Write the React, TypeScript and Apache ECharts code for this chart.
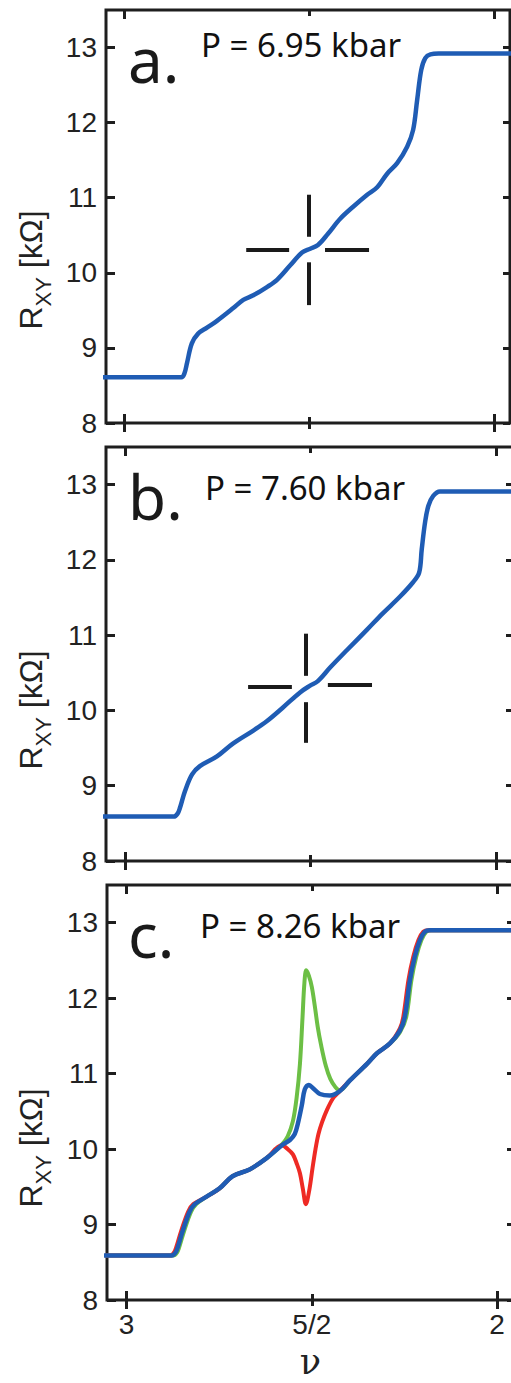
import React, { useEffect, useRef } from "react";
import * as echarts from "echarts";

// ---------- data ----------
const xTickMajor = [3, 2];
const xTickMinor = [2.5];
const xTickText: Record<string, string> = { "3": "3", "2.5": "5/2", "2": "2" };
const yTicks = [8, 9, 10, 11, 12, 13];
const xAxisName = "ν";
const yAxisRich = "{m|R}{s|XY}{m| [kΩ]}";

const panelLetters = ["a.", "b.", "c."];
const pressureTexts = ["P = 6.95 kbar", "P = 7.60 kbar", "P = 8.26 kbar"];

// panel a (blue)
const nuA = [3.06, 2.9, 2.845, 2.837, 2.83, 2.817, 2.8, 2.776, 2.749, 2.705, 2.678, 2.651, 2.614, 2.586, 2.551, 2.519, 2.497, 2.476, 2.449, 2.416, 2.381, 2.343, 2.316, 2.289, 2.262, 2.235, 2.219, 2.208, 2.197, 2.186, 2.172, 2.15, 2.05, 1.95];
const rA = [8.61, 8.61, 8.61, 8.66, 8.8, 9.06, 9.19, 9.27, 9.36, 9.53, 9.64, 9.7, 9.81, 9.91, 10.1, 10.27, 10.32, 10.37, 10.52, 10.72, 10.88, 11.04, 11.14, 11.32, 11.46, 11.68, 11.9, 12.3, 12.7, 12.86, 12.91, 12.92, 12.92, 12.92];

// panel b (blue)
const nuB = [3.06, 2.9, 2.868, 2.858, 2.852, 2.838, 2.819, 2.798, 2.752, 2.709, 2.655, 2.617, 2.574, 2.528, 2.501, 2.48, 2.447, 2.402, 2.348, 2.305, 2.259, 2.224, 2.207, 2.2, 2.191, 2.182, 2.169, 2.151, 2.05, 1.95];
const rB = [8.59, 8.59, 8.59, 8.63, 8.7, 8.93, 9.15, 9.26, 9.39, 9.56, 9.73, 9.86, 10.04, 10.24, 10.33, 10.39, 10.57, 10.8, 11.07, 11.29, 11.51, 11.7, 11.83, 12.14, 12.5, 12.72, 12.85, 12.91, 12.91, 12.91];

// panel c (green, red, blue)
const nuCg = [3.06, 2.9, 2.874, 2.864, 2.858, 2.845, 2.826, 2.812, 2.784, 2.749, 2.714, 2.668, 2.622, 2.581, 2.565, 2.551, 2.541, 2.532, 2.525, 2.52, 2.515, 2.508, 2.5, 2.492, 2.484, 2.475, 2.462, 2.45, 2.436, 2.424, 2.397, 2.351, 2.324, 2.289, 2.262, 2.245, 2.231, 2.218, 2.204, 2.191, 2.177, 2.05, 1.95];
const rCg = [8.59, 8.59, 8.59, 8.63, 8.7, 8.91, 9.17, 9.27, 9.37, 9.48, 9.64, 9.73, 9.88, 10.06, 10.17, 10.37, 10.68, 11.13, 11.75, 12.2, 12.37, 12.3, 12.15, 11.9, 11.62, 11.38, 11.1, 10.93, 10.82, 10.78, 10.91, 11.13, 11.27, 11.4, 11.55, 11.75, 12.24, 12.55, 12.77, 12.88, 12.9, 12.9, 12.9];

const nuCr = [3.06, 2.9, 2.882, 2.872, 2.866, 2.853, 2.834, 2.82, 2.784, 2.749, 2.714, 2.668, 2.622, 2.581, 2.565, 2.551, 2.54, 2.532, 2.524, 2.516, 2.507, 2.498, 2.49, 2.482, 2.472, 2.459, 2.443, 2.43, 2.424, 2.397, 2.351, 2.324, 2.289, 2.262, 2.253, 2.239, 2.226, 2.212, 2.199, 2.185, 2.05, 1.95];
const rCr = [8.59, 8.59, 8.59, 8.63, 8.7, 8.91, 9.17, 9.27, 9.37, 9.48, 9.64, 9.73, 9.88, 10.05, 10.0, 9.93, 9.8, 9.68, 9.47, 9.27, 9.45, 9.75, 10.0, 10.2, 10.36, 10.52, 10.67, 10.74, 10.77, 10.91, 11.13, 11.27, 11.4, 11.6, 11.75, 12.24, 12.55, 12.77, 12.88, 12.9, 12.9, 12.9];

const nuCb = [3.06, 2.9, 2.878, 2.868, 2.862, 2.849, 2.83, 2.816, 2.784, 2.749, 2.714, 2.668, 2.622, 2.578, 2.559, 2.546, 2.538, 2.527, 2.519, 2.508, 2.495, 2.478, 2.451, 2.424, 2.397, 2.351, 2.324, 2.289, 2.262, 2.249, 2.235, 2.222, 2.208, 2.195, 2.181, 2.05, 1.95];
const rCb = [8.59, 8.59, 8.59, 8.63, 8.7, 8.91, 9.17, 9.27, 9.37, 9.48, 9.64, 9.73, 9.88, 10.06, 10.12, 10.2, 10.33, 10.58, 10.79, 10.85, 10.8, 10.73, 10.71, 10.77, 10.91, 11.13, 11.27, 11.4, 11.57, 11.75, 12.24, 12.55, 12.77, 12.88, 12.9, 12.9, 12.9];

// crosshair segments [[nu1, R1], [nu2, R2]]
const crossA = [
  [[2.67, 10.31], [2.554, 10.31]],
  [[2.457, 10.31], [2.338, 10.31]],
  [[2.502, 11.04], [2.502, 10.48]],
  [[2.502, 10.14], [2.502, 9.57]],
];
const crossB = [
  [[2.668, 10.32], [2.55, 10.32]],
  [[2.453, 10.34], [2.334, 10.34]],
  [[2.512, 11.02], [2.512, 10.46]],
  [[2.512, 10.11], [2.512, 9.57]],
];

// ---------- styles / layout ----------
const AX = "#1e1e1e";
const TXT = "#222";
const BLUE = "#1f5cb4";
const GREEN = "#6cbf45";
const RED = "#ee2a24";
const SANS = "Liberation Sans, Arial, sans-serif";

const layout = [
  { left: 106, top: 10, width: 404, height: 413, xMin: 1.957, xMax: 3.049, letterY: 59, pX: 201, pY: 44, rY: 270 },
  { left: 106, top: 447, width: 407, height: 414, xMin: 1.954, xMax: 3.051, letterY: 496, pX: 205, pY: 487, rY: 710 },
  { left: 107, top: 885, width: 407, height: 415, xMin: 1.954, xMax: 3.053, letterY: 934, pX: 200, pY: 925, rY: 1148 },
];

const zip = (a: number[], b: number[]) => a.map((v, i) => [v, b[i]]);

const panelCurves = [
  [{ name: "a", data: zip(nuA, rA), color: BLUE, width: 4.5 }],
  [{ name: "b", data: zip(nuB, rB), color: BLUE, width: 4.5 }],
  [
    { name: "c-green", data: zip(nuCg, rCg), color: GREEN, width: 4 },
    { name: "c-red", data: zip(nuCr, rCr), color: RED, width: 4 },
    { name: "c-blue", data: zip(nuCb, rCb), color: BLUE, width: 4.5 },
  ],
];
const panelCross = [crossA, crossB, null];

function buildOption() {
  const grid: any[] = [];
  const xAxis: any[] = [];
  const yAxis: any[] = [];
  const series: any[] = [];
  const graphic: any[] = [];
  const tickLine = { color: AX, width: 3 };
  const labelStyle = { fontFamily: SANS, fontSize: 28, color: TXT };
  const fmtX = (v: number) => xTickText[String(v)] ?? "";

  layout.forEach((L, i) => {
    const rect = { left: L.left, top: L.top, width: L.width, height: L.height, outerBoundsMode: "none", containLabel: false };
    grid.push({ ...rect, show: true, borderColor: AX, borderWidth: 3, backgroundColor: "transparent" });
    grid.push({ ...rect, show: false });
    const g = 2 * i;
    const baseX = (gi: number) => ({
      type: "value", gridIndex: gi, min: L.xMin, max: L.xMax, inverse: true,
      splitLine: { show: false }, axisLine: { show: false, onZero: false },
    });
    const showLbl = i === 2;
    // main bottom (major ticks crossing)
    xAxis.push({
      ...baseX(g), position: "bottom", offset: -9,
      axisTick: { show: true, inside: false, length: 18, customValues: xTickMajor, lineStyle: tickLine },
      axisLabel: { show: showLbl, customValues: xTickMajor, formatter: fmtX, margin: 19, ...labelStyle },
      name: showLbl ? xAxisName : "", nameLocation: "middle", nameGap: 55.5, nameMoveOverlap: false,
      nameTextStyle: { fontFamily: "DejaVu Serif, Liberation Serif, serif", fontSize: 35, lineHeight: 30, color: TXT },
    });
    // main top (major ticks inside)
    xAxis.push({
      ...baseX(g), position: "top",
      axisTick: { show: true, inside: true, length: 9, customValues: xTickMajor, lineStyle: tickLine },
      axisLabel: { show: false },
    });
    // overlay bottom (minor tick crossing)
    xAxis.push({
      ...baseX(g + 1), position: "bottom", offset: -6,
      axisTick: { show: true, inside: false, length: 12, customValues: xTickMinor, lineStyle: tickLine },
      axisLabel: { show: showLbl, customValues: xTickMinor, formatter: fmtX, margin: 16, ...labelStyle },
    });
    // overlay top (minor tick inside)
    xAxis.push({
      ...baseX(g + 1), position: "top",
      axisTick: { show: true, inside: true, length: 6, customValues: xTickMinor, lineStyle: tickLine },
      axisLabel: { show: false },
    });
    const baseY = (gi: number) => ({
      type: "value", gridIndex: gi, min: 8, max: 13.5,
      splitLine: { show: false }, axisLine: { show: false, onZero: false },
    });
    yAxis.push({
      ...baseY(g), position: "left",
      axisTick: { show: true, inside: true, length: 9, customValues: yTicks, lineStyle: tickLine },
      axisLabel: { show: true, customValues: yTicks, margin: 9, padding: [6, 0, 0, 0], formatter: (v: number) => String(v), ...labelStyle },
    });
    yAxis.push({
      ...baseY(g), position: "right",
      axisTick: { show: true, inside: true, length: 7, customValues: yTicks, lineStyle: tickLine },
      axisLabel: { show: false },
    });
    yAxis.push({ ...baseY(g + 1), show: false });

    const cross = panelCross[i];
    if (cross) {
      series.push({
        type: "lines", coordinateSystem: "cartesian2d", xAxisIndex: 4 * i, yAxisIndex: 3 * i,
        polyline: false, silent: true, z: 3,
        lineStyle: { color: "#1a1a1a", width: 4, opacity: 1, cap: "butt" },
        data: cross.map((c) => ({ coords: c })),
      });
    }
    panelCurves[i].forEach((c, k) => {
      series.push({
        type: "line", name: c.name, xAxisIndex: 4 * i, yAxisIndex: 3 * i,
        data: c.data, smooth: 0.35, showSymbol: false, symbol: "none", clip: true, z: 4 + k,
        lineStyle: { color: c.color, width: c.width, cap: "round", join: "round" },
        silent: true,
      });
    });

    graphic.push({
      type: "text", x: 128, y: L.letterY, z: 10,
      style: { text: panelLetters[i], fontSize: 62, fontFamily: "Noto Sans", fill: "#1a1a1a", align: "left", textAlign: "left", verticalAlign: "middle", textVerticalAlign: "middle" },
    });
    graphic.push({
      type: "text", x: L.pX, y: L.pY, z: 10,
      style: { text: pressureTexts[i], fontSize: 33, fontFamily: "Noto Sans", fill: "#111", align: "left", textAlign: "left", verticalAlign: "middle", textVerticalAlign: "middle" },
    });
    graphic.push({
      type: "text", x: 31, y: L.rY, rotation: Math.PI / 2, z: 10,
      style: {
        text: yAxisRich, align: "center", textAlign: "center", verticalAlign: "middle", textVerticalAlign: "middle",
        fill: TXT, fontFamily: SANS, fontSize: 32,
        rich: {
          m: { fontSize: 32, fontFamily: SANS, lineHeight: 46, fill: TXT, color: TXT },
          s: { fontSize: 22, fontFamily: SANS, verticalAlign: "bottom", fill: TXT, color: TXT },
        },
      },
    });
  });

  return {
    animation: false,
    backgroundColor: "#ffffff",
    textStyle: { fontFamily: SANS },
    grid, xAxis, yAxis, series, graphic,
  };
}

export default function App() {
  const ref = useRef<HTMLDivElement>(null);
  useEffect(() => {
    const chart = echarts.init(ref.current!, null, { renderer: "svg" });
    chart.setOption(buildOption() as any);
    return () => chart.dispose();
  }, []);
  return (
    <div
      ref={ref}
      style={{ position: "absolute", left: 0, top: 0, width: 511, height: 1383, background: "#fff" }}
    />
  );
}
